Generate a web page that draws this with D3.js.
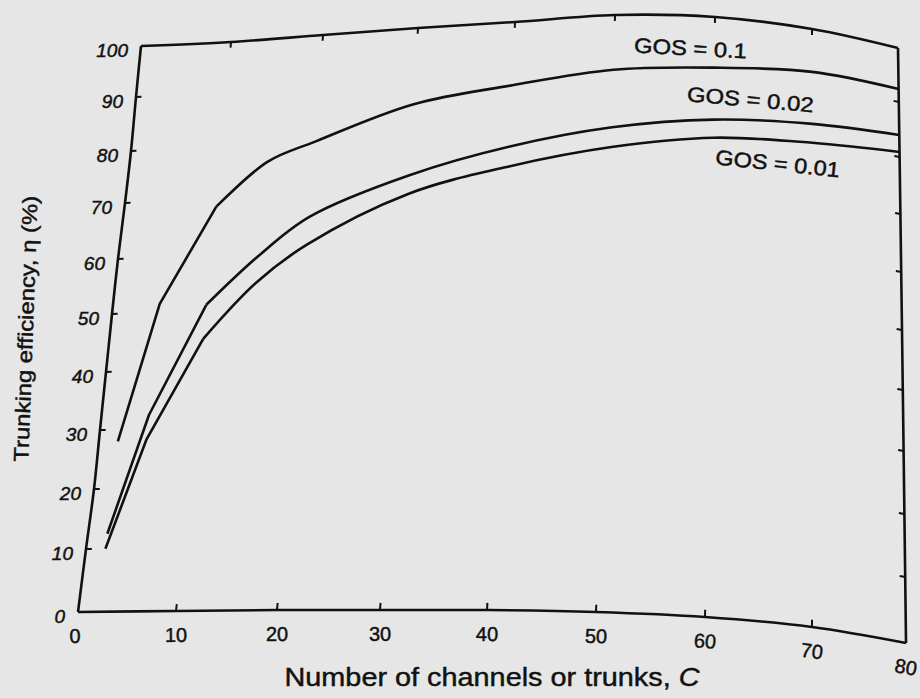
<!DOCTYPE html>
<html lang="en">
<head>
    <meta charset="UTF-8">
    <title>Trunking efficiency vs number of channels</title>
    <script src="https://d3js.org/d3.v7.min.js"></script>
    <style>
        body {
            margin: 0;
            background: #e6e6e6;
            font-family: "Liberation Sans", Arial, sans-serif;
        }
        .frame, .curve {
            fill: none;
            stroke: #111;
            stroke-width: 2.6;
            stroke-linejoin: round;
        }
        .tick {
            stroke: #111;
            stroke-width: 2;
        }
        text {
            fill: #111;
            stroke: #111;
            stroke-width: 0.45;
        }
    </style>
</head>
<body>
    <div id="chart"></div>

    <script>
        // chart data
        const channels = [2, 5, 10, 15, 20, 30, 40, 50, 60, 70, 80];
        const gos01  = [28, 51.6, 68.8, 76.7, 80.0, 85.7, 88.2, 89.9, 90.7, 92.1, 92.4];
        const gos002 = [12.5, 32.4, 51.2, 59.6, 66.1, 72.7, 77.1, 79.6, 81.4, 82.7, 84.0];
        const gos001 = [10, 28.3, 45.3, 54.8, 61.2, 69.3, 73.5, 76.1, 78.2, 79.3, 80.9];
        const seriesLabels = ["GOS = 0.1", "GOS = 0.02", "GOS = 0.01"];
        const xTicks = [0, 10, 20, 30, 40, 50, 60, 70, 80];
        const yTicks = [0, 10, 20, 30, 40, 50, 60, 70, 80, 90, 100];

        const width = 920, height = 698;

        // the printed page is curled, so each frame edge gets its own scale
        // and the plot area is a blend of the four (Coons patch)
        const bottomX = d3.scaleLinear().domain(xTicks).range([78, 176, 277, 380, 487, 596, 705, 812, 906]);
        const bottomY = d3.scaleLinear().domain(xTicks).range([612, 611, 610, 610, 610, 612, 617, 627, 643]);
        const topX = d3.scaleLinear().domain(xTicks).range([141, 231, 323, 418, 515, 615, 715, 812, 898]);
        const topY = d3.scaleLinear().domain(xTicks).range([46, 42, 35, 28, 22, 15, 17, 29, 48]);
        const leftX = d3.scaleLinear().domain(yTicks).range([78, 86, 94, 100, 106, 112, 118, 125, 131, 136, 141]);
        const leftY = d3.scaleLinear().domain(yTicks).range([612, 549, 489, 430, 372, 314, 259, 203, 151, 97, 46]);
        const rightX = d3.scaleLinear().domain([0, 100]).range([906, 898]);
        const rightY = d3.scaleLinear().domain(yTicks).range([643, 577, 514, 451, 390, 330, 272, 214, 157, 102, 48]);

        const u = d3.scaleLinear().domain([0, 80]).range([0, 1]);
        const v = d3.scaleLinear().domain([0, 100]).range([0, 1]);

        function project(c, e) {
            const s = u(c), t = v(e);
            const x = (1 - t) * bottomX(c) + t * topX(c) + (1 - s) * leftX(e) + s * rightX(e)
                - ((1 - s) * (1 - t) * bottomX(0) + s * (1 - t) * bottomX(80) + (1 - s) * t * topX(0) + s * t * topX(80));
            const y = (1 - t) * bottomY(c) + t * topY(c) + (1 - s) * leftY(e) + s * rightY(e)
                - ((1 - s) * (1 - t) * bottomY(0) + s * (1 - t) * bottomY(80) + (1 - s) * t * topY(0) + s * t * topY(80));
            return [x, y];
        }

        function angleAt(c, e) {
            const a = project(c - 1, e), b = project(c + 1, e);
            return Math.atan2(b[1] - a[1], b[0] - a[0]) * 180 / Math.PI;
        }

        const svg = d3.select("#chart").append("svg")
            .attr("width", width)
            .attr("height", height);

        svg.append("rect")
            .attr("width", width)
            .attr("height", height)
            .attr("fill", "#e6e6e6");

        const edge = d3.line().curve(d3.curveCatmullRom.alpha(0.5));

        // frame
        svg.append("path").attr("class", "frame").attr("d", edge(xTicks.map(c => project(c, 0))));
        svg.append("path").attr("class", "frame").attr("d", edge(xTicks.map(c => project(c, 100))));
        svg.append("path").attr("class", "frame").attr("d", edge(yTicks.map(e => project(0, e))));
        svg.append("path").attr("class", "frame").attr("d", edge(yTicks.map(e => project(80, e))));

        // inward ticks on all four sides
        const inner = xTicks.slice(1, -1);
        const innerY = yTicks.slice(1, -1);
        const tickSegs = [];
        inner.forEach(c => {
            tickSegs.push([project(c, 0), project(c, 1.1)]);
            tickSegs.push([project(c, 100), project(c, 98.9)]);
        });
        innerY.forEach(e => {
            tickSegs.push([project(0, e), project(0.6, e)]);
            tickSegs.push([project(80, e), project(79.4, e)]);
        });
        svg.selectAll(".tick")
            .data(tickSegs)
            .enter().append("line")
            .attr("class", "tick")
            .attr("x1", d => d[0][0]).attr("y1", d => d[0][1])
            .attr("x2", d => d[1][0]).attr("y2", d => d[1][1]);

        // x tick labels
        svg.selectAll(".xlabel")
            .data(xTicks)
            .enter().append("text")
            .attr("class", "xlabel")
            .attr("text-anchor", "middle")
            .attr("dominant-baseline", "central")
            .style("font-size", "20px")
            .attr("transform", d => {
                const p = project(d, 0);
                const a = angleAt(Math.min(Math.max(d, 1), 79), 0);
                return `translate(${p[0] - (d === 0 ? 3 : 0)},${p[1] + 24}) rotate(${a})`;
            })
            .text(d => d);

        // y tick labels
        svg.selectAll(".ylabel")
            .data(yTicks)
            .enter().append("text")
            .attr("class", "ylabel")
            .attr("text-anchor", "end")
            .attr("dominant-baseline", "central")
            .style("font-size", "19px")
            .style("font-style", "italic")
            .attr("x", d => project(0, d)[0] - 13)
            .attr("y", d => project(0, d)[1] + 4)
            .text(d => d);

        // curves: straight pieces up to C = 10, smooth after that
        const series = [gos01, gos002, gos001];
        const straight = d3.line().curve(d3.curveLinear);
        const smooth = d3.line().curve(d3.curveCatmullRom.alpha(0.5));
        const split = channels.indexOf(10);
        series.forEach(vals => {
            const pts = channels.map((c, i) => project(c, vals[i]));
            svg.append("path").attr("class", "curve").attr("d", straight(pts.slice(0, split + 1)));
            svg.append("path").attr("class", "curve").attr("d", smooth(pts.slice(split)));
        });

        // series labels
        const labelAnchors = [[57.6, 94.2, 3], [63.7, 85.8, 5], [66.5, 75.0, 6]];
        const labelLengths = [113, 127, 125];
        svg.selectAll(".gos")
            .data(seriesLabels)
            .enter().append("text")
            .attr("class", "gos")
            .attr("text-anchor", "middle")
            .attr("dominant-baseline", "central")
            .style("font-size", "21px")
            .attr("textLength", (d, i) => labelLengths[i])
            .attr("lengthAdjust", "spacingAndGlyphs")
            .attr("transform", (d, i) => {
                const a = labelAnchors[i];
                const p = project(a[0], a[1]);
                return `translate(${p[0]},${p[1]}) rotate(${a[2]})`;
            })
            .text(d => d);

        // axis titles
        const xTitle = svg.append("text")
            .attr("x", 492)
            .attr("y", 686)
            .attr("text-anchor", "middle")
            .attr("textLength", 415)
            .attr("lengthAdjust", "spacingAndGlyphs")
            .style("font-size", "26px");
        xTitle.append("tspan").text("Number of channels or trunks, ");
        xTitle.append("tspan").style("font-style", "italic").text("C");

        svg.append("text")
            .attr("transform", "translate(33,329) rotate(-88)")
            .attr("text-anchor", "middle")
            .attr("textLength", 266)
            .attr("lengthAdjust", "spacingAndGlyphs")
            .style("font-size", "21px")
            .text("Trunking efficiency, η (%)");
    </script>
</body>
</html>
